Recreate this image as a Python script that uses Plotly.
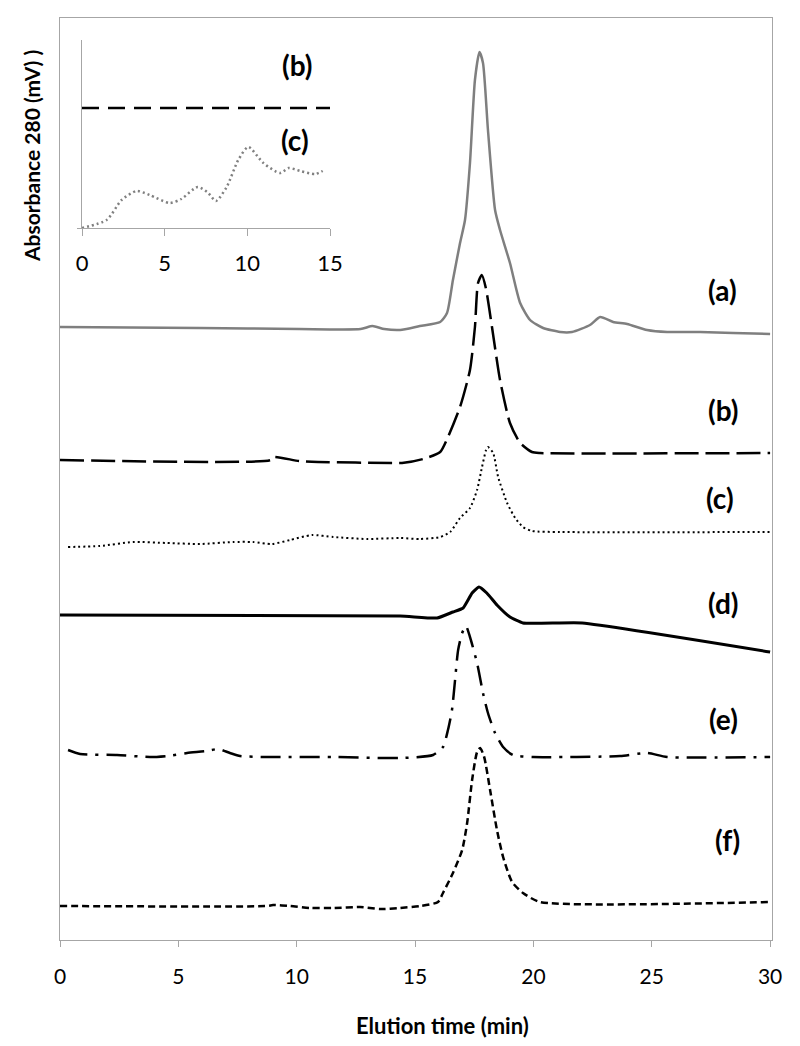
import plotly.graph_objects as go

# ---------------- data ----------------
# main chart: elution time (min) and absorbance signal (arbitrary mV units, stacked traces)
t_a = [0, 5.9, 10.1, 12.7, 13.2, 13.7, 14.37, 15.2, 16.06, 16.35, 16.6, 16.9, 17.11, 17.32, 17.53,
       17.72, 17.87, 18.08, 18.38, 18.59, 19.01, 19.44, 19.86, 20.41, 21.13, 21.63, 22.39, 22.82,
       23.37, 23.96, 24.8, 25.65, 27.04, 28.44, 30.0]
s_a = [613, 612, 611, 611, 614, 611, 610, 614, 618, 627, 660, 697, 720, 777, 860,
       888, 877, 810, 730, 710, 677, 637, 620, 612, 608, 608, 615, 623,
       618, 616, 610, 608, 608, 607, 606]

t_b = [0, 8.9, 9.0, 10.1, 10.9, 14.1, 14.45, 15.34, 16.06, 16.39, 16.9, 17.32, 17.53, 17.66,
       17.82, 17.99, 18.25, 18.59, 19.01, 19.44, 19.94, 20.28, 30.0]
s_b = [480, 480, 483, 479, 478, 477, 477, 481, 488, 503, 533, 570, 613, 657,
       665, 652, 613, 560, 517, 497, 488, 487, 487]

t_c = [0.34, 1.69, 3.08, 4.52, 5.92, 7.31, 8.15, 8.96, 9.72, 10.65, 11.54, 12.97, 14.37, 15.21,
       16.06, 16.48, 16.9, 17.32, 17.62, 17.83, 18.0, 18.08, 18.3, 18.51, 18.89, 19.23, 19.56,
       19.94, 21.13, 30.42]
s_c = [393, 394, 398, 397, 396, 398, 398, 396, 400, 405, 403, 401, 402, 401,
       403, 408, 422, 432, 450, 473, 490, 493, 487, 463, 437, 422, 413,
       409, 408, 408]

t_d = [0, 14.37, 15.93, 16.6, 17.03, 17.41, 17.7, 18.03, 18.46, 19.01, 19.56, 22.06, 30.0]
s_d = [325, 324, 322, 328, 332, 347, 353, 347, 335, 323, 317, 317, 288]

t_e = [0.34, 0.85, 2.41, 3.8, 4.52, 5.37, 6.21, 6.68, 7.18, 7.61, 8.75, 11.54, 14.37, 15.76,
       16.18, 16.39, 16.56, 16.69, 16.82, 16.99, 17.15, 17.32, 17.62, 17.87, 18.08, 18.38, 18.72,
       19.14, 19.99, 23.66, 24.8, 25.65, 30.0]
s_e = [190, 186, 185, 183, 184, 187, 189, 191, 187, 184, 183, 183, 182, 185,
       193, 210, 230, 260, 290, 307, 314, 303, 277, 247, 227, 207, 193,
       185, 183, 184, 187, 183, 183]

t_f = [0, 8.75, 9.0, 9.72, 10.56, 11.54, 12.68, 13.52, 14.37, 15.21, 15.97, 16.18, 16.6, 16.99,
       17.2, 17.41, 17.62, 17.75, 17.92, 18.17, 18.46, 18.72, 19.1, 19.56, 20.28, 30.0]
s_f = [34, 34, 35, 34, 32, 32, 33, 31, 32, 34, 38, 47, 67, 90,
       117, 160, 188, 192, 183, 150, 110, 83, 58, 47, 38, 38]

# inset: first 15 min, traces (b) and (c) magnified
ti_b = [0, 15]
si_b = [120, 120]
ti_c = [0, 1.49, 2.4, 3.3, 4.1, 5.3, 6.0, 7.0, 7.64, 8.1, 8.75, 9.45, 10.06, 10.97, 11.97,
        12.5, 13.2, 14.1, 14.56]
si_c = [0, 8, 28, 37, 33, 25, 29, 41, 35, 27, 41, 68, 81, 65, 55,
        60, 57, 54, 57]

labels = ["(a)", "(b)", "(c)", "(d)", "(e)", "(f)"]
label_t = [28.0, 28.0, 27.9, 28.05, 28.05, 28.2]
label_s = [650, 530, 442, 337, 221, 100]
inset_labels = ["(b)", "(c)"]
inset_label_t = [13.0, 12.9]
inset_label_s = [163, 88]

main_ticks = [0, 5, 10, 15, 20, 25, 30]
inset_ticks = [0, 5, 10, 15]

# ---------------- figure ----------------
FONT = "Lato"
AX = "#a6a6a6"
OFF = 8  # page body margin
fig = go.Figure()

common = dict(mode="lines", line_shape="spline", showlegend=False, hoverinfo="skip")
fig.add_trace(go.Scatter(x=t_a, y=s_a, line=dict(color="#7f7f7f", width=2.5, smoothing=0.6), **common))
fig.add_trace(go.Scatter(x=t_b, y=s_b, line=dict(color="black", width=2.5, dash="24px,7px", smoothing=0.6), **common))
fig.add_trace(go.Scatter(x=t_c, y=s_c, line=dict(color="black", width=2, dash="2px,3px", smoothing=0.6), **common))
fig.add_trace(go.Scatter(x=t_d, y=s_d, line=dict(color="black", width=3, smoothing=0.4), **common))
fig.add_trace(go.Scatter(x=t_e, y=s_e, line=dict(color="black", width=2.5, dash="20px,8px,3px,8px", smoothing=0.6), **common))
fig.add_trace(go.Scatter(x=t_f, y=s_f, line=dict(color="black", width=2.5, dash="7px,4px", smoothing=0.6), **common))

fig.add_trace(go.Scatter(x=ti_b, y=si_b, xaxis="x2", yaxis="y2",
                         line=dict(color="black", width=2.5, dash="17px,9px"), **common))
fig.add_trace(go.Scatter(x=ti_c, y=si_c, xaxis="x2", yaxis="y2",
                         line=dict(color="#808080", width=2.5, dash="2px,3px", smoothing=0.7), **common))

annotations = []
for lab, x, y in zip(labels, label_t, label_s):
    annotations.append(dict(x=x, y=y, xref="x", yref="y", text="<b>%s</b>" % lab, showarrow=False,
                            xanchor="center", yanchor="middle",
                            font=dict(family=FONT, size=28, color="black")))
for lab, x, y in zip(inset_labels, inset_label_t, inset_label_s):
    annotations.append(dict(x=x, y=y, xref="x2", yref="y2", text="<b>%s</b>" % lab, showarrow=False,
                            xanchor="center", yanchor="middle",
                            font=dict(family=FONT, size=28, color="black")))
annotations.append(dict(x=(442 - 60) / 712, y=(940 - 1026) / 922, xref="paper", yref="paper",
                        text="<b>Elution time (min)</b>", showarrow=False,
                        xanchor="center", yanchor="middle",
                        font=dict(family=FONT, size=22, color="black")))
annotations.append(dict(x=(31 - 60) / 712, y=(940 - 156) / 922, xref="paper", yref="paper",
                        text="<b>Absorbance 280 (mV) )</b>", showarrow=False, textangle=-90,
                        xanchor="center", yanchor="middle",
                        font=dict(family=FONT, size=21, color="black")))

fig.update_layout(
    width=800 - OFF, height=1046 - OFF,
    margin=dict(l=60 - OFF, r=28, t=18 - OFF, b=106),
    paper_bgcolor="white", plot_bgcolor="white",
    font=dict(family=FONT, size=21, color="black"),
    xaxis=dict(range=[0, 30.08], tickvals=main_ticks, showgrid=False, zeroline=False,
               showline=True, linecolor=AX, linewidth=1.2, mirror=True,
               ticks="outside", ticklen=6, tickcolor=AX, ticklabelstandoff=12,
               tickfont=dict(family=FONT, size=21)),
    yaxis=dict(range=[0, 922], showgrid=False, zeroline=False, showticklabels=False,
               showline=True, linecolor=AX, linewidth=1.2, mirror=True, ticks=""),
    xaxis2=dict(domain=[(82 - 60) / 712, (330 - 60) / 712], anchor="y2", range=[0, 15],
                tickvals=inset_ticks, showgrid=False, zeroline=False,
                showline=True, linecolor=AX, linewidth=1.2, ticks="outside", ticklen=7,
                tickcolor=AX, ticklabelstandoff=8, tickfont=dict(family=FONT, size=22)),
    yaxis2=dict(domain=[(940 - 228) / 922, (940 - 40) / 922], anchor="x2", range=[0, 188],
                showgrid=False, zeroline=False, showticklabels=False,
                showline=True, linecolor=AX, linewidth=1.2, ticks="outside", ticklen=4,
                tickcolor=AX, tickvals=[0]),
    annotations=annotations,
)

fig.write_html("out.html")
